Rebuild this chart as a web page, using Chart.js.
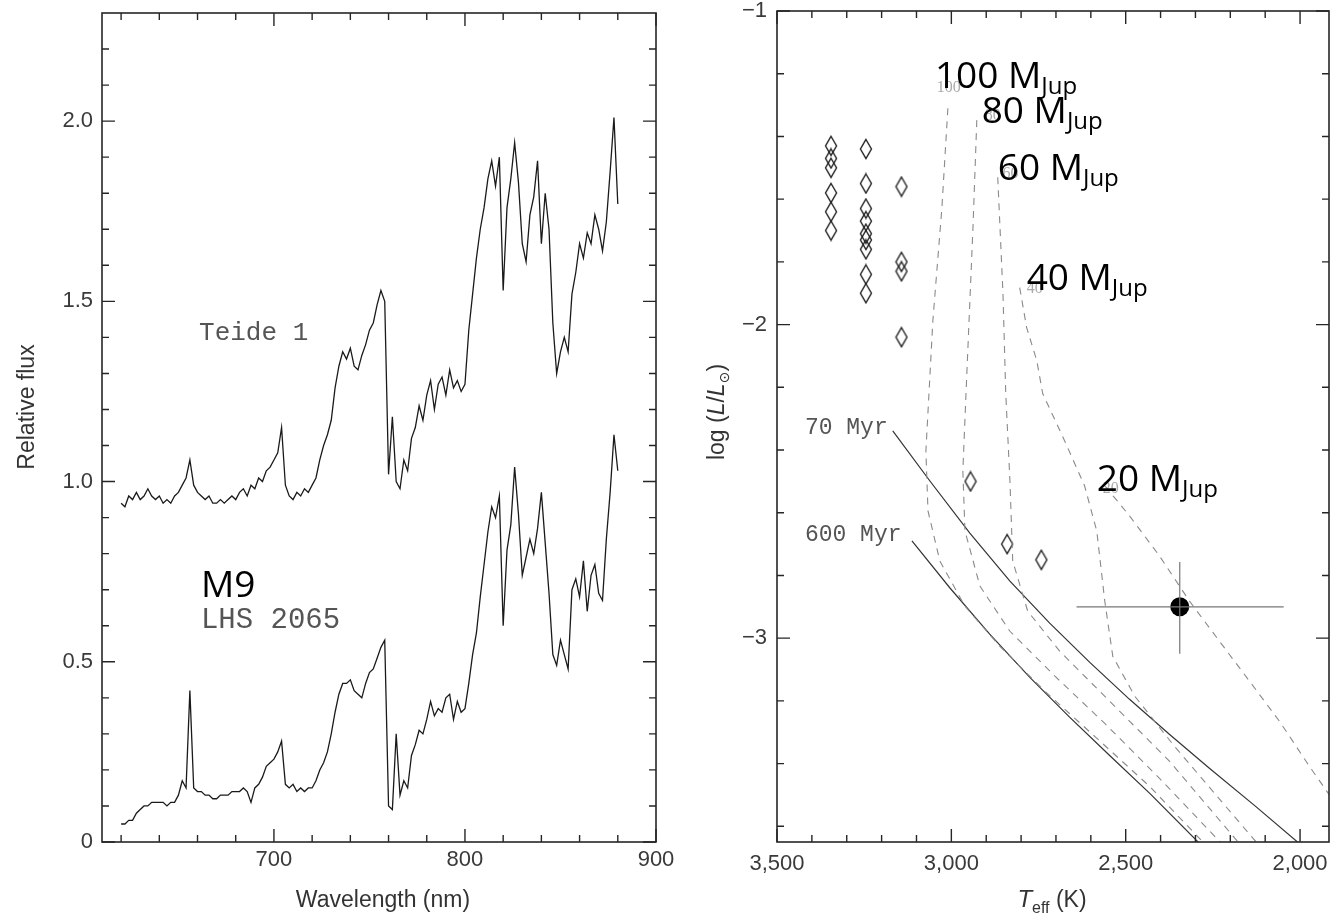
<!DOCTYPE html>
<html><head><meta charset="utf-8">
<script src="https://cdn.jsdelivr.net/npm/chart.js@4.4.1/dist/chart.umd.min.js"></script>
<style>
html,body{margin:0;padding:0;background:#fff;}
#wrap{position:relative;width:1332px;height:918px;overflow:hidden;background:#fff;}
#c1{position:absolute;left:0;top:0;}
#c2{position:absolute;left:680px;top:0;}
</style></head><body>
<div id="wrap"><canvas id="c1" width="680" height="918"></canvas><canvas id="c2" width="652" height="918"></canvas></div>
<script>
// ---------- Left panel: spectra ----------
const wavelengths = [620,622,624,626,628,630,632,634,636,638,640,642,644,646,648,650,652,654,656,658,660,662,664,666,668,670,672,674,676,678,680,682,684,686,688,690,692,694,696,698,700,702,704,706,708,710,712,714,716,718,720,722,724,726,728,730,732,734,736,738,740,742,744,746,748,750,752,754,756,758,760,762,764,766,768,770,772,774,776,778,780,782,784,786,788,790,792,794,796,798,800,802,804,806,808,810,812,814,816,818,820,822,824,826,828,830,832,834,836,838,840,842,844,846,848,850,852,854,856,858,860,862,864,866,868,870,872,874,876,878,880];
const teideFlux = [0.94,0.93,0.96,0.95,0.97,0.95,0.96,0.98,0.96,0.95,0.96,0.94,0.95,0.94,0.96,0.97,0.99,1.01,1.06,0.99,0.97,0.96,0.95,0.96,0.94,0.94,0.95,0.94,0.95,0.96,0.95,0.97,0.98,0.96,0.99,0.98,1.01,1.00,1.03,1.04,1.06,1.08,1.15,0.99,0.96,0.95,0.97,0.96,0.98,0.97,0.99,1.01,1.06,1.10,1.13,1.17,1.26,1.32,1.36,1.34,1.37,1.32,1.31,1.35,1.38,1.42,1.44,1.49,1.53,1.50,1.02,1.18,1.00,0.98,1.06,1.03,1.12,1.15,1.21,1.17,1.24,1.28,1.20,1.27,1.29,1.24,1.31,1.26,1.28,1.25,1.27,1.42,1.52,1.62,1.70,1.76,1.84,1.89,1.82,1.90,1.53,1.76,1.84,1.94,1.83,1.66,1.61,1.74,1.79,1.89,1.66,1.80,1.70,1.44,1.30,1.36,1.40,1.36,1.52,1.58,1.66,1.62,1.69,1.66,1.74,1.70,1.64,1.72,1.86,2.01,1.77];
const lhsFlux = [0.05,0.05,0.06,0.06,0.08,0.09,0.10,0.10,0.11,0.11,0.11,0.11,0.10,0.11,0.11,0.13,0.17,0.15,0.42,0.15,0.14,0.14,0.13,0.13,0.12,0.12,0.13,0.13,0.13,0.14,0.14,0.14,0.15,0.14,0.11,0.15,0.16,0.18,0.21,0.22,0.23,0.25,0.28,0.16,0.15,0.16,0.14,0.15,0.14,0.15,0.15,0.17,0.20,0.22,0.25,0.30,0.36,0.41,0.44,0.44,0.45,0.42,0.41,0.40,0.44,0.47,0.48,0.51,0.54,0.56,0.10,0.09,0.30,0.13,0.17,0.15,0.24,0.27,0.31,0.30,0.34,0.39,0.35,0.37,0.36,0.40,0.41,0.34,0.39,0.36,0.37,0.44,0.52,0.58,0.68,0.77,0.86,0.93,0.90,0.96,0.60,0.81,0.88,1.04,0.91,0.74,0.79,0.84,0.80,0.87,0.97,0.83,0.69,0.52,0.49,0.56,0.52,0.48,0.70,0.73,0.68,0.78,0.64,0.74,0.77,0.69,0.67,0.84,0.97,1.13,1.03];
const waveTicks = [700,800,900];
const waveTickLabels = ['700','800','900'];
const waveMinorTicks = [620,640,660,680,720,740,760,780,820,840,860,880];
const fluxTicks = [0,0.5,1,1.5,2];
const fluxTickLabels = ['0','0.5','1.0','1.5','2.0'];
const fluxMinorTicks = [0.1,0.2,0.3,0.4,0.6,0.7,0.8,0.9,1.1,1.2,1.3,1.4,1.6,1.7,1.8,1.9,2.1,2.2];

// ---------- Right panel: HR diagram ----------
const diamondTeff = [3345,3345,3345,3345,3345,3345,3245,3245,3245,3245,3245,3245,3245,3245,3245,3143,3143,3143,3143,2945,2840,2742];
const diamondLogL = [-1.43,-1.47,-1.50,-1.58,-1.64,-1.70,-1.44,-1.55,-1.63,-1.67,-1.71,-1.73,-1.76,-1.84,-1.90,-1.56,-1.80,-1.83,-2.04,-2.50,-2.70,-2.75];
const teide1Teff = [2345];
const teide1LogL = [-2.90];
const teide1TeffRange = [2641,2047];
const teide1LogLRange = [-2.757,-3.05];
const iso70Teff = [3168,3062,2947,2832,2718,2603,2489,2374,2260,2130,2002];
const iso70LogL = [-2.339,-2.498,-2.665,-2.818,-2.952,-3.077,-3.195,-3.307,-3.415,-3.534,-3.655];
const iso600Teff = [3113,3004,2890,2775,2661,2546,2431,2288];
const iso600LogL = [-2.690,-2.840,-2.987,-3.125,-3.252,-3.374,-3.495,-3.655];
const track100Teff = [3010,3027,3053,3073,3067,3033,2961,2861,2732,2589,2431,2274];
const track100LogL = [-1.310,-1.626,-1.987,-2.403,-2.594,-2.754,-2.898,-3.026,-3.169,-3.313,-3.473,-3.655];
const track80Teff = [2927,2938,2958,2967,2961,2918,2832,2703,2560,2403,2225];
const track80LogL = [-1.348,-1.690,-2.220,-2.467,-2.658,-2.834,-2.978,-3.121,-3.272,-3.447,-3.655];
const track60Teff = [2867,2852,2844,2832,2824,2781,2689,2546,2374,2174];
const track60LogL = [-1.530,-1.901,-2.220,-2.498,-2.754,-2.914,-3.042,-3.201,-3.393,-3.655];
const track40Teff = [2804,2784,2755,2738,2675,2618,2583,2560,2537,2474,2360,2245,2122];
const track40LogL = [-1.882,-2.010,-2.115,-2.220,-2.371,-2.514,-2.658,-2.882,-3.058,-3.185,-3.345,-3.495,-3.655];
const track20Teff = [2560,2489,2403,2317,2231,2145,2059,1973,1887];
const track20LogL = [-2.514,-2.610,-2.738,-2.882,-3.010,-3.137,-3.265,-3.409,-3.546];
const teffTicks = [3500,3000,2500,2000];
const teffTickLabels = ['3,500','3,000','2,500','2,000'];
const teffMinorTicks = [3400,3300,3200,3100,2900,2800,2700,2600,2400,2300,2200,2100];
const lumTicks = [-1,-2,-3];
const lumTickLabels = ['\u22121','\u22122','\u22123'];
const lumMinorTicks = [-1.2,-1.4,-1.6,-1.8,-2.2,-2.4,-2.6,-2.8,-3.2,-3.4,-3.6];

function pts(xs, ys){ return xs.map((v,i)=>({x:v, y:ys[i]})); }

const frameTicks = {
  id:'frameTicks',
  afterDatasetsDraw(chart, args, o){
    const {ctx, chartArea:a} = chart; const sx = chart.scales.x, sy = chart.scales.y;
    ctx.save();
    ctx.strokeStyle = '#262626';
    ctx.lineWidth = 1.6;
    ctx.strokeRect(a.left, a.top, a.right-a.left, a.bottom-a.top);
    ctx.lineWidth = 1.4;
    ctx.beginPath();
    const xt = (vals,len)=>vals.forEach(v=>{const p=sx.getPixelForValue(v); ctx.moveTo(p,a.bottom); ctx.lineTo(p,a.bottom-len); ctx.moveTo(p,a.top); ctx.lineTo(p,a.top+len);});
    const yt = (vals,len)=>vals.forEach(v=>{const p=sy.getPixelForValue(v); ctx.moveTo(a.left,p); ctx.lineTo(a.left+len,p); ctx.moveTo(a.right,p); ctx.lineTo(a.right-len,p);});
    xt(o.xMajor,13); xt(o.xMinor,7); yt(o.yMajor,13); yt(o.yMinor,7);
    ctx.stroke(); ctx.restore();
  }
};

const annot = {
  id:'annot',
  afterDraw(chart, args, o){
    const ctx = chart.ctx, sx = chart.scales.x, sy = chart.scales.y;
    const runW = runs => runs.reduce((w,r)=>{ctx.font=r.font; return w+ctx.measureText(r.text).width;},0);
    const drawRuns = (runs,x,y)=>{ runs.forEach(r=>{ctx.font=r.font; ctx.fillText(r.text,x,y+(r.dy||0)); x+=ctx.measureText(r.text).width;}); };
    ctx.save(); ctx.textBaseline='alphabetic'; ctx.textAlign='left';
    (o.items||[]).forEach(it=>{ ctx.fillStyle=it.color; drawRuns(it.runs, sx.getPixelForValue(it.x), sy.getPixelForValue(it.y)); });
    (o.titles||[]).forEach(t=>{ ctx.save(); ctx.fillStyle=t.color; ctx.translate(t.cx,t.cy); if(t.rotate) ctx.rotate(-Math.PI/2); const w=runW(t.runs); drawRuns(t.runs,-w/2,t.base); ctx.restore(); });
    ctx.restore();
  }
};

const tickFont = {family:'Liberation Sans', size:22};
const tickColor = '#3a3a3a';
const F = '"Liberation Sans"';
const OS = '"Open Sans"';
const bigLabel = (t)=>[{text:t+' M', font:'37px '+OS},{text:'Jup', font:'24px '+OS, dy:6}];

// diamond marker
const diamond = document.createElement('canvas');
diamond.width = 14; diamond.height = 22;
{ const g = diamond.getContext('2d'); g.strokeStyle='#222'; g.lineWidth=1.4; g.beginPath(); g.moveTo(7,1.5); g.lineTo(12.5,11); g.lineTo(7,20.5); g.lineTo(1.5,11); g.closePath(); g.stroke(); }

const lineDs = (xs,ys,color,width,dash)=>({data:pts(xs,ys), showLine:true, borderColor:color, borderWidth:width, borderDash:dash||[], pointRadius:0, tension:0, fill:false});

new Chart(document.getElementById('c1'), {
  type:'scatter',
  data:{datasets:[
    lineDs(wavelengths, teideFlux, '#1a1a1a', 1.3),
    lineDs(wavelengths, lhsFlux, '#1a1a1a', 1.3)
  ]},
  options:{
    responsive:false, animation:false, events:[],
    layout:{autoPadding:false, padding:{left:0, top:13, right:24, bottom:0}},
    plugins:{
      legend:{display:false}, tooltip:{enabled:false},
      frameTicks:{xMajor:waveTicks, xMinor:waveMinorTicks, yMajor:fluxTicks, yMinor:fluxMinorTicks},
      annot:{
        items:[
          {x:660.8, y:1.394, color:'#555', runs:[{text:'Teide 1', font:'26px "Liberation Mono"'}]},
          {x:661.8, y:0.594, color:'#555', runs:[{text:'LHS 2065', font:'29px "Liberation Mono"'}]},
          {x:661.8, y:0.681, color:'#000', runs:[{text:'M9', font:'37px '+OS}]}
        ],
        titles:[
          {cx:26, cy:407, rotate:true, base:8, color:'#333', runs:[{text:'Relative flux', font:'23px '+F}]},
          {cx:383, cy:899, rotate:false, base:8, color:'#333', runs:[{text:'Wavelength (nm)', font:'23px '+F}]}
        ]
      }
    },
    scales:{
      x:{type:'linear', min:610, max:900, grid:{display:false, drawTicks:false}, border:{display:false},
        afterBuildTicks:s=>{s.ticks = waveTicks.map(v=>({value:v}));},
        afterFit:s=>{s.height=76; s.paddingLeft=0; s.paddingRight=0;},
        ticks:{autoSkip:false, maxRotation:0, padding:5, color:tickColor, font:tickFont, callback:(v,i)=>waveTickLabels[i]}},
      y:{type:'linear', min:0, max:2.3, grid:{display:false, drawTicks:false}, border:{display:false},
        afterBuildTicks:s=>{s.ticks = fluxTicks.map(v=>({value:v}));},
        afterFit:s=>{s.width=102; s.paddingTop=0; s.paddingBottom=0;},
        ticks:{autoSkip:false, padding:9, color:tickColor, font:tickFont, callback:(v,i)=>fluxTickLabels[i]}}
    }
  },
  plugins:[frameTicks, annot]
});

const dashC = '#8a8a8a', dash = [7,6];
new Chart(document.getElementById('c2'), {
  type:'scatter',
  data:{datasets:[
    lineDs(track100Teff, track100LogL, dashC, 1.1, dash),
    lineDs(track80Teff, track80LogL, dashC, 1.1, dash),
    lineDs(track60Teff, track60LogL, dashC, 1.1, dash),
    lineDs(track40Teff, track40LogL, dashC, 1.1, dash),
    lineDs(track20Teff, track20LogL, dashC, 1.1, dash),
    lineDs(iso70Teff, iso70LogL, '#333', 1.2),
    lineDs(iso600Teff, iso600LogL, '#333', 1.2),
    lineDs(teide1TeffRange, [teide1LogL[0], teide1LogL[0]], '#777', 1.2),
    lineDs([teide1Teff[0], teide1Teff[0]], teide1LogLRange, '#777', 1.2),
    {data:pts(diamondTeff, diamondLogL), pointStyle:diamond, pointRadius:8, showLine:false},
    {data:pts(teide1Teff, teide1LogL), pointStyle:'circle', pointRadius:9.5, backgroundColor:'#000', borderColor:'#000', borderWidth:0, showLine:false}
  ]},
  options:{
    responsive:false, animation:false, events:[],
    layout:{autoPadding:false, padding:{left:0, top:11, right:3, bottom:0}},
    plugins:{
      legend:{display:false}, tooltip:{enabled:false},
      frameTicks:{xMajor:teffTicks, xMinor:teffMinorTicks, yMajor:lumTicks, yMinor:lumMinorTicks},
      annot:{
        items:[
          {x:3042, y:-1.259, color:'#aaa', runs:[{text:'100', font:'16px "Liberation Serif"'}]},
          {x:2904, y:-1.348, color:'#aaa', runs:[{text:'80', font:'16px "Liberation Serif"'}]},
          {x:2853, y:-1.534, color:'#aaa', runs:[{text:'60', font:'16px "Liberation Serif"'}]},
          {x:2784, y:-1.898, color:'#aaa', runs:[{text:'40', font:'16px "Liberation Serif"'}]},
          {x:2566, y:-2.537, color:'#aaa', runs:[{text:'20', font:'16px "Liberation Serif"'}]},
          {x:3420, y:-2.348, color:'#555', runs:[{text:'70 Myr', font:'23px "Liberation Mono"'}]},
          {x:3420, y:-2.690, color:'#555', runs:[{text:'600 Myr', font:'23px "Liberation Mono"'}]},
          {x:3047, y:-1.246, color:'#000', runs:bigLabel('100')},
          {x:2913, y:-1.358, color:'#000', runs:bigLabel('80')},
          {x:2867, y:-1.540, color:'#000', runs:bigLabel('60')},
          {x:2784, y:-1.891, color:'#000', runs:bigLabel('40')},
          {x:2583, y:-2.530, color:'#000', runs:bigLabel('20')}
        ],
        titles:[
          {cx:36, cy:412, rotate:true, base:8, color:'#333', runs:[
            {text:'log (', font:'23px '+F},{text:'L', font:'italic 23px '+F},{text:'/', font:'23px '+F},
            {text:'L', font:'italic 23px '+F},{text:'\u2299', font:'14px "DejaVu Sans"', dy:5},{text:')', font:'23px '+F}]},
          {cx:372, cy:899, rotate:false, base:8, color:'#333', runs:[
            {text:'T', font:'italic 24px '+F},{text:'eff', font:'16px '+F, dy:6},{text:' (K)', font:'23px '+F}]}
        ]
      }
    },
    scales:{
      x:{type:'linear', min:1917, max:3500, reverse:true, grid:{display:false, drawTicks:false}, border:{display:false},
        afterBuildTicks:s=>{s.ticks = teffTicks.map(v=>({value:v}));},
        afterFit:s=>{s.height=76; s.paddingLeft=0; s.paddingRight=0;},
        ticks:{autoSkip:false, maxRotation:0, padding:9, color:tickColor, font:tickFont, callback:(v,i)=>teffTickLabels[i]}},
      y:{type:'linear', min:-3.65, max:-1, grid:{display:false, drawTicks:false}, border:{display:false},
        afterBuildTicks:s=>{s.ticks = lumTicks.map(v=>({value:v}));},
        afterFit:s=>{s.width=97; s.paddingTop=0; s.paddingBottom=0;},
        ticks:{autoSkip:false, padding:10, color:tickColor, font:tickFont, callback:(v,i)=>lumTickLabels[i]}}
    }
  },
  plugins:[frameTicks, annot]
});
</script>
</body></html>
